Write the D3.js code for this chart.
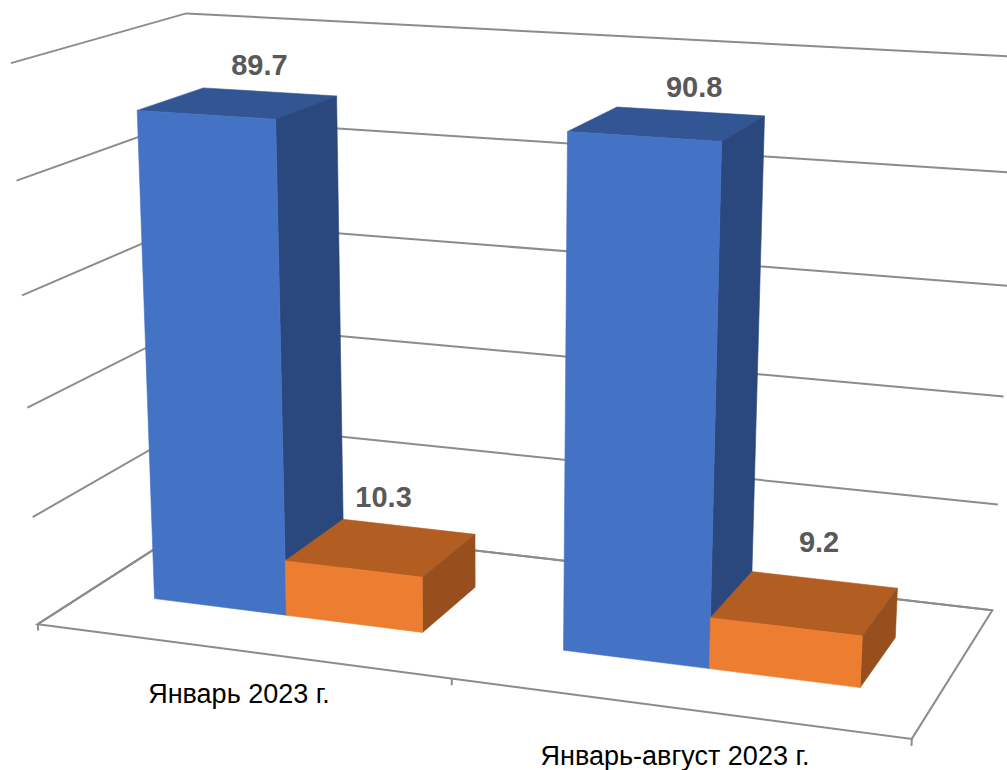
<!DOCTYPE html>
<html><head><meta charset="utf-8">
<style>body{margin:0;background:#fff}svg{display:block}text{font-family:"Liberation Sans",Arial,sans-serif}</style>
<script src="https://cdn.jsdelivr.net/npm/d3@7"></script></head>
<body><svg id="chart" width="1007" height="770"></svg>
<script>
const categories = ["Январь 2023 г.", "Январь-август 2023 г."];
const seriesNames = ["a", "b"];
const seriesA = [89.7, 90.8];
const seriesB = [10.3, 9.2];
const valueTicks = [0, 20, 40, 60, 80, 100];

// points as seen in the picture: [category pos, value pos, depth, screen x, screen y]
const calibration = [
  [0,0,0,38,624],[1,0,0,913,739],[.5,0,0,451,678],[0,1,0,11,64],[0,1,1,186,13],
  [1,0,1,991,610],[1,1,1,1019,57],[0,0,1,201,518],[0,.8,0,17,181],[0,.6,0,23,296],
  [0,.4,0,28,408],[0,.2,0,32,518],[1,.8,1,1016,173],[1,.6,1,1012,288],
  [.585,.908,.297,567,131],[.75,.908,.297,720,140],[.75,.908,.692,762,115],[.585,.908,.692,627,108],
  [.085,.897,.297,138,110],[.251,.897,.297,276,118],[.251,.897,.692,336,97]
];

function solve(A, b) {
  const n = b.length, M = A.map((r, i) => [...r, b[i]]);
  for (let i = 0; i < n; i++) {
    let p = i;
    for (let k = i + 1; k < n; k++) if (Math.abs(M[k][i]) > Math.abs(M[p][i])) p = k;
    [M[i], M[p]] = [M[p], M[i]];
    for (let k = 0; k < n; k++) {
      if (k === i) continue;
      const f = M[k][i] / M[i][i];
      for (let j = i; j <= n; j++) M[k][j] -= f * M[i][j];
    }
  }
  return M.map((r, i) => r[n] / r[i]);
}

// least squares fit of the 3x4 camera matrix, last entry fixed to 1
function fitCamera(pts) {
  const rows = [], rhs = [];
  pts.forEach(([u, v, w, x, y]) => {
    rows.push([u,v,w,1,0,0,0,0,-x*u,-x*v,-x*w]); rhs.push(x);
    rows.push([0,0,0,0,u,v,w,1,-y*u,-y*v,-y*w]); rhs.push(y);
  });
  const AtA = d3.range(11).map(i => d3.range(11).map(j => d3.sum(rows, r => r[i]*r[j])));
  const Atb = d3.range(11).map(i => d3.sum(rows, (r, k) => r[i]*rhs[k]));
  return solve(AtA, Atb);
}

const C = fitCamera(calibration);
function project(u, v, w) {
  const d = C[8]*u + C[9]*v + C[10]*w + 1;
  return [(C[0]*u + C[1]*v + C[2]*w + C[3]) / d, (C[4]*u + C[5]*v + C[6]*w + C[7]) / d];
}

const svg = d3.select("#chart");
const y = d3.scaleLinear().domain([0, 100]).range([0, 1]);
const x0 = d3.scaleBand().domain(categories).range([0, 1]).paddingInner(1 / 3).paddingOuter(1 / 6);
const x1 = d3.scaleBand().domain(seriesNames).range([0, x0.bandwidth()]);
const depth = d3.scaleLinear().domain([0, 1]).range([0.297, 0.692]);

const face = pts => "M" + pts.map(p => project(...p).map(d => d.toFixed(1)).join(",")).join("L") + "Z";
const line = d3.line();

// walls and floor
const grid = svg.append("g").attr("fill", "none").attr("stroke", "#8c8c8c").attr("stroke-width", 2);
valueTicks.forEach(t => {
  grid.append("path").attr("d", line([project(0, y(t), 0), project(0, y(t), 1), project(1, y(t), 1)]));
});
grid.append("path").attr("d", face([[0,0,0],[1,0,0],[1,0,1],[0,0,1]]));
[0, .5, 1].forEach(u => grid.append("path").attr("d", line([project(u,0,0), project(u,-0.012,0)])));

// bars: top, side, front
const colors = { a: ["#4472C4", "#325594", "#2A477E"], b: ["#ED7D31", "#B25D22", "#974F1D"] };
const w0 = depth(0), w1 = depth(1);
categories.forEach((c, i) => {
  [seriesA[i], seriesB[i]].forEach((val, s) => {
    const u0 = x0(c) + x1(seriesNames[s]), u1 = u0 + x1.bandwidth(), h = y(val), col = colors[seriesNames[s]];
    const addFace = (fill, pts) => svg.append("path").attr("fill", fill).attr("stroke", fill).attr("stroke-width", 0.6).attr("d", face(pts));
    addFace(col[1], [[u0,h,w0],[u1,h,w0],[u1,h,w1],[u0,h,w1]]);
    addFace(col[2], [[u1,0,w0],[u1,h,w0],[u1,h,w1],[u1,0,w1]]);
    addFace(col[0], [[u0,0,w0],[u1,0,w0],[u1,h,w0],[u0,h,w0]]);
  });
});

// value labels sit above the bar top, nudged by hand as in the original
const labelNudge = [[[-10, -17], [-25, -20]], [[4, -14], [-5, -28]]];
categories.forEach((c, i) => {
  [seriesA[i], seriesB[i]].forEach((val, s) => {
    const u = x0(c) + x1(seriesNames[s]) + x1.bandwidth() / 2;
    const [px, py] = project(u, y(val), depth(1));
    svg.append("text")
      .attr("x", px + labelNudge[i][s][0]).attr("y", py + labelNudge[i][s][1])
      .attr("text-anchor", "middle").attr("font-size", 29).attr("font-weight", "bold")
      .attr("fill", "#595959").text(val.toFixed(1));
  });
});

// category labels
const catPos = [[239, 703], [675, 765]];
categories.forEach((c, i) => {
  svg.append("text").attr("x", catPos[i][0]).attr("y", catPos[i][1])
    .attr("text-anchor", "middle").attr("font-size", 27).attr("fill", "#000").text(c);
});
</script></body></html>
